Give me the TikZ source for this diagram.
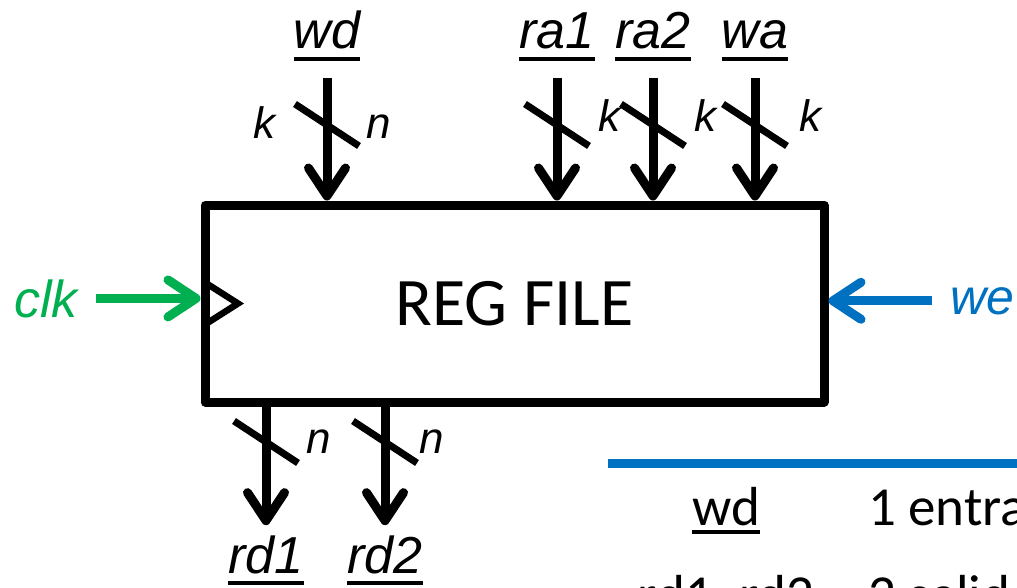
\documentclass[tikz,border=0pt]{standalone}
\usepackage{fontspec}
\setmainfont{Carlito}
\newfontfamily\lblfont{Liberation Sans}
\usetikzlibrary{arrows.meta,positioning,calc}
\definecolor{clkcolor}{RGB}{0,176,80}
\definecolor{wecolor}{RGB}{0,112,192}
\newcommand{\ulbl}[2][9pt]{\setbox0=\hbox{#2}%
  \rlap{\vrule width\wd0 height -#1 depth \dimexpr#1+3.5pt\relax}\box0}

\begin{document}
\begin{tikzpicture}[x=1pt, y=-1pt,
  regbox/.style={draw, line width=9pt, line join=round, inner sep=0pt,
                 minimum width=619pt, minimum height=197pt,
                 font=\fontsize{68}{80}\selectfont},
  sig/.style={font=\fontsize{52}{60}\selectfont\lblfont\itshape,
              inner sep=0pt, anchor=base},
  bits/.style={font=\fontsize{44}{50}\selectfont\lblfont\itshape,
               inner sep=0pt, anchor=base west},
  ctl/.style={font=\fontsize{52}{60}\selectfont\lblfont\itshape,
              inner sep=0pt, anchor=base},
  arr/.style={line width=9pt, -{Straight Barb[length=28pt,width=37pt,round]}},
  slash/.style={line width=7pt},
  tbl/.style={font=\fontsize{55}{64}\selectfont, inner sep=0pt, anchor=base}
]
\path[use as bounding box, clip] (0,0) rectangle (1017,587);

% Register file
\node[regbox] (reg) at (514.5,303.5) {REG FILE};
\coordinate (slashtop) at (0,125);
\coordinate (slashbot) at (0,442);

% Data input
\node[sig] (wd) at (327,48) {\ulbl{wd}};
\draw[arr, shorten <=17pt] (wd.south) -- (wd |- reg.north);
\draw[slash] ($(wd |- slashtop)+(-32,-21)$) -- ++(64,42);
\node[bits, anchor=base east] (kwd) at (276,138) {k};
\node[bits] (nwd) at (366,138) {n};

% Address inputs
\node[sig] (ra1) at (557,48) {\ulbl{ra1}};
\draw[arr, shorten <=17pt] (ra1.south) -- (ra1 |- reg.north);
\draw[slash] ($(ra1 |- slashtop)+(-32,-21)$) -- ++(64,42);
\node[bits] (kra1) at (598,131) {k};

\node[sig] (ra2) at (653,48) {\ulbl{ra2}};
\draw[arr, shorten <=17pt] (ra2.south) -- (ra2 |- reg.north);
\draw[slash] ($(ra2 |- slashtop)+(-32,-21)$) -- ++(64,42);
\node[bits] (kra2) at (694,131) {k};

\node[sig] (wa) at (755,48) {\ulbl{wa}};
\draw[arr, shorten <=17pt] (wa.south) -- (wa |- reg.north);
\draw[slash] ($(wa |- slashtop)+(-32,-21)$) -- ++(64,42);
\node[bits] (kwa) at (799,131) {k};

% Clock and write enable
\node[ctl, clkcolor] (clk) at (46,317) {clk};
\draw[arr, clkcolor, shorten <=18pt] (clk.east) -- (clk.east -| reg.west);
\draw[line width=6.5pt] ($(reg.west)+(4.5,-21)$) -- ++(33,21) -- ++(-33,21);

\node[ctl, wecolor, font=\fontsize{50}{58}\selectfont\lblfont\itshape]
     (we) at (982,314) {we};
\draw[arr, wecolor, shorten <=18pt] (we.west) -- (we.west -| reg.east);

% Data outputs
\node[sig] (rd1) at (266,573) {\ulbl[8pt]{rd1}};
\draw[arr, shorten >=10pt] (rd1 |- reg.south) -- (rd1.north);
\draw[slash] ($(rd1 |- slashbot)+(-32,-21)$) -- ++(64,42);
\node[bits] (nrd1) at (306,453) {n};

\node[sig] (rd2) at (385,573) {\ulbl[8pt]{rd2}};
\draw[arr, shorten >=10pt] (rd2 |- reg.south) -- (rd2.north);
\draw[slash] ($(rd2 |- slashbot)+(-32,-21)$) -- ++(64,42);
\node[bits] (nrd2) at (419,453) {n};

% Table
\draw[wecolor, line width=9pt] (608,463) -- (1030,463);
\node[tbl] (twd) at (726,525) {\ulbl[5pt]{wd}};
\node[tbl, anchor=base west] (twdtxt) at (868,525) {1 entrada};
\node[tbl] (trd) at (726,613) {\ulbl[5pt]{rd1, rd2}};
\node[tbl, anchor=base west] (trdtxt) at (868,613) {2 salidas};

\end{tikzpicture}
\end{document}
